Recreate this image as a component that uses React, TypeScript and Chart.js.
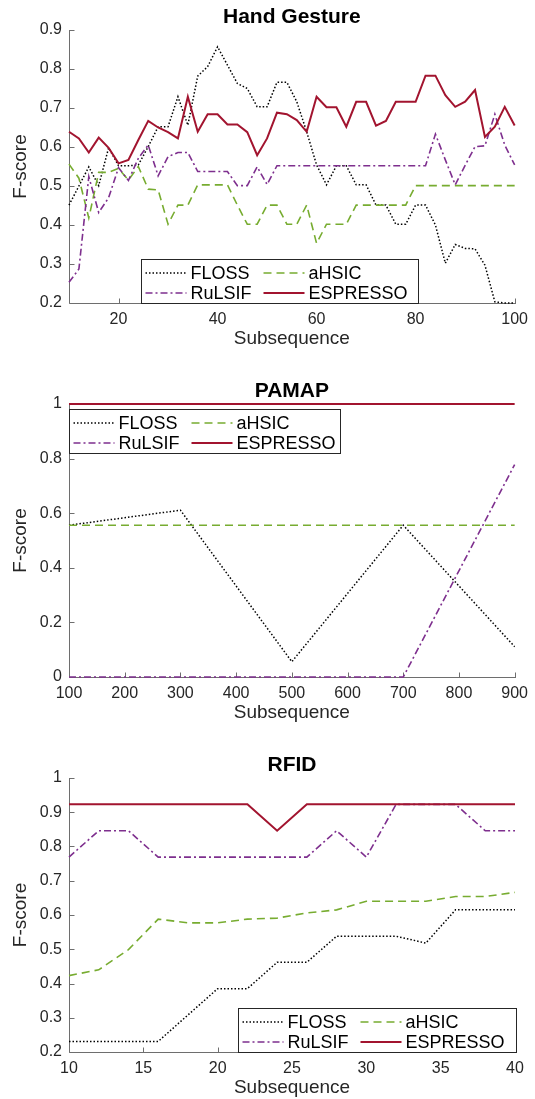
import React, { useEffect, useRef } from "react";
import { Chart, registerables } from "chart.js";

Chart.register(...registerables);

const FONT = '"Liberation Sans", Arial, Helvetica, sans-serif';
const TICK_COLOR = "#262626";
const AXIS_COLOR = "#6e6e6e";

// ---------------- Hand Gesture ----------------
const handX = [10, 12, 14, 16, 18, 20, 22, 24, 26, 28, 30, 32, 34, 36, 38, 40, 42, 44, 46, 48, 50, 52, 54, 56, 58, 60, 62, 64, 66, 68, 70, 72, 74, 76, 78, 80, 82, 84, 86, 88, 90, 92, 94, 96, 98, 100];
const handFloss = [0.451, 0.5, 0.549, 0.501, 0.598, 0.552, 0.552, 0.554, 0.601, 0.652, 0.652, 0.729, 0.656, 0.782, 0.806, 0.857, 0.81, 0.763, 0.75, 0.703, 0.703, 0.766, 0.766, 0.716, 0.639, 0.554, 0.503, 0.552, 0.552, 0.503, 0.503, 0.451, 0.451, 0.402, 0.402, 0.451, 0.451, 0.4, 0.302, 0.35, 0.34, 0.339, 0.297, 0.203, 0.2, 0.2];
const handAhsic = [0.556, 0.52, 0.418, 0.535, 0.535, 0.545, 0.515, 0.55, 0.492, 0.49, 0.402, 0.451, 0.451, 0.503, 0.503, 0.503, 0.503, 0.451, 0.402, 0.402, 0.451, 0.451, 0.402, 0.402, 0.451, 0.353, 0.402, 0.402, 0.402, 0.451, 0.451, 0.451, 0.451, 0.451, 0.451, 0.501, 0.501, 0.501, 0.501, 0.501, 0.501, 0.501, 0.501, 0.501, 0.501, 0.501];
const handRulsif = [0.253, 0.287, 0.524, 0.432, 0.47, 0.547, 0.514, 0.571, 0.605, 0.526, 0.575, 0.586, 0.586, 0.537, 0.537, 0.537, 0.537, 0.501, 0.501, 0.549, 0.504, 0.552, 0.552, 0.552, 0.552, 0.552, 0.552, 0.552, 0.552, 0.552, 0.552, 0.552, 0.552, 0.552, 0.552, 0.552, 0.552, 0.633, 0.567, 0.503, 0.553, 0.601, 0.603, 0.684, 0.605, 0.554];
const handEspresso = [0.639, 0.622, 0.586, 0.624, 0.598, 0.558, 0.567, 0.618, 0.667, 0.65, 0.638, 0.622, 0.729, 0.639, 0.684, 0.684, 0.658, 0.658, 0.638, 0.579, 0.622, 0.688, 0.684, 0.669, 0.639, 0.729, 0.702, 0.702, 0.652, 0.716, 0.716, 0.655, 0.667, 0.716, 0.716, 0.716, 0.783, 0.783, 0.733, 0.703, 0.716, 0.746, 0.626, 0.652, 0.703, 0.655];
const handXTicks = [20, 40, 60, 80, 100];
const handYTicks = [0.2, 0.3, 0.4, 0.5, 0.6, 0.7, 0.8, 0.9];

// ---------------- PAMAP ----------------
const pamapX = [100, 300, 500, 700, 900];
const pamapFloss = [0.556, 0.611, 0.056, 0.556, 0.111];
const pamapAhsic = [0.556, 0.556, 0.556, 0.556, 0.556];
const pamapRulsif = [0, 0, 0, 0, 0.778];
const pamapEspresso = [1, 1, 1, 1, 1];
const pamapXTicks = [100, 200, 300, 400, 500, 600, 700, 800, 900];
const pamapYTicks = [0, 0.2, 0.4, 0.6, 0.8, 1];

// ---------------- RFID ----------------
const rfidX = [10, 12, 14, 16, 18, 20, 22, 24, 26, 28, 30, 32, 34, 36, 38, 40];
const rfidFloss = [0.231, 0.231, 0.231, 0.231, 0.308, 0.385, 0.385, 0.462, 0.462, 0.538, 0.538, 0.538, 0.518, 0.615, 0.615, 0.615];
const rfidAhsic = [0.423, 0.44, 0.499, 0.588, 0.577, 0.577, 0.588, 0.591, 0.606, 0.615, 0.64, 0.64, 0.64, 0.654, 0.654, 0.666];
const rfidRulsif = [0.769, 0.846, 0.846, 0.769, 0.769, 0.769, 0.769, 0.769, 0.769, 0.846, 0.769, 0.923, 0.923, 0.923, 0.846, 0.846];
const rfidEspresso = [0.923, 0.923, 0.923, 0.923, 0.923, 0.923, 0.923, 0.846, 0.923, 0.923, 0.923, 0.923, 0.923, 0.923, 0.923, 0.923];
const rfidXTicks = [10, 15, 20, 25, 30, 35, 40];
const rfidYTicks = [0.2, 0.3, 0.4, 0.5, 0.6, 0.7, 0.8, 0.9, 1];

const seriesNames = ["FLOSS", "aHSIC", "RuLSIF", "ESPRESSO"];

const seriesStyles = [
  { color: "#000000", width: 1.5, dash: [1.5, 2] },
  { color: "#77AC30", width: 1.6, dash: [8, 5] },
  { color: "#7E2F8E", width: 1.6, dash: [7, 3, 2, 3] },
  { color: "#A2142F", width: 2, dash: [] as number[] },
];

interface PanelDef {
  title: string;
  canvasTop: number;
  canvasHeight: number;
  plotTop: number;
  plotBottom: number;
  x: number[];
  series: number[][];
  xMin: number;
  xMax: number;
  yMin: number;
  yMax: number;
  xTicks: number[];
  yTicks: number[];
  legend: { left: number; top: number; width: number };
}

const panels: PanelDef[] = [
  {
    title: "Hand Gesture",
    canvasTop: 0,
    canvasHeight: 366,
    plotTop: 30,
    plotBottom: 303,
    x: handX,
    series: [handFloss, handAhsic, handRulsif, handEspresso],
    xMin: 10,
    xMax: 100,
    yMin: 0.2,
    yMax: 0.9,
    xTicks: handXTicks,
    yTicks: handYTicks,
    legend: { left: 141, top: 259, width: 277 },
  },
  {
    title: "PAMAP",
    canvasTop: 366,
    canvasHeight: 364,
    plotTop: 404,
    plotBottom: 677,
    x: pamapX,
    series: [pamapFloss, pamapAhsic, pamapRulsif, pamapEspresso],
    xMin: 100,
    xMax: 900,
    yMin: 0,
    yMax: 1,
    xTicks: pamapXTicks,
    yTicks: pamapYTicks,
    legend: { left: 69, top: 409, width: 271 },
  },
  {
    title: "RFID",
    canvasTop: 730,
    canvasHeight: 369,
    plotTop: 778,
    plotBottom: 1052,
    x: rfidX,
    series: [rfidFloss, rfidAhsic, rfidRulsif, rfidEspresso],
    xMin: 10,
    xMax: 40,
    yMin: 0.2,
    yMax: 1,
    xTicks: rfidXTicks,
    yTicks: rfidYTicks,
    legend: { left: 238, top: 1008, width: 278 },
  },
];

const PLOT_LEFT = 69;
const PLOT_RIGHT = 515;
const CANVAS_W = 535;

function fmtTick(v: number): string {
  return String(Number(Number(v).toFixed(2)));
}

function makeDecor(p: PanelDef) {
  return {
    id: "decor_" + p.title.replace(/\s/g, ""),
    beforeDatasetsDraw(chart: any) {
      const ctx = chart.ctx as CanvasRenderingContext2D;
      const a = chart.chartArea;
      const xs = chart.scales.x;
      const ys = chart.scales.y;
      ctx.save();
      ctx.strokeStyle = AXIS_COLOR;
      ctx.lineWidth = 1;
      ctx.setLineDash([]);
      ctx.beginPath();
      const lx = Math.round(a.left) + 0.5;
      const by = Math.round(a.bottom) + 0.5;
      ctx.moveTo(lx, Math.round(a.top));
      ctx.lineTo(lx, by);
      ctx.lineTo(Math.round(a.right) + 1, by);
      for (const v of p.xTicks) {
        const px = Math.round(xs.getPixelForValue(v)) + 0.5;
        ctx.moveTo(px, by);
        ctx.lineTo(px, by - 5);
      }
      for (const v of p.yTicks) {
        const py = Math.round(ys.getPixelForValue(v)) + 0.5;
        ctx.moveTo(lx, py);
        ctx.lineTo(lx + 5, py);
      }
      ctx.stroke();

      // title
      const cx = (a.left + a.right) / 2;
      ctx.fillStyle = "#000000";
      ctx.font = "bold 21px " + FONT;
      ctx.textAlign = "center";
      ctx.textBaseline = "middle";
      ctx.fillText(p.title, cx, a.top - 13);

      // axis titles
      ctx.fillStyle = TICK_COLOR;
      ctx.font = "19px " + FONT;
      ctx.fillText("Subsequence", cx, a.bottom + 36);
      ctx.save();
      ctx.translate(21, (a.top + a.bottom) / 2);
      ctx.rotate(-Math.PI / 2);
      ctx.fillText("F-score", 0, 0);
      ctx.restore();
      ctx.restore();
    },
    afterDatasetsDraw(chart: any) {
      const ctx = chart.ctx as CanvasRenderingContext2D;
      const L = p.legend.left + 0.5;
      const T = p.legend.top - p.canvasTop + 0.5;
      const W = p.legend.width;
      const H = 44;
      ctx.save();
      ctx.fillStyle = "#ffffff";
      ctx.fillRect(L, T, W, H);
      ctx.strokeStyle = "#262626";
      ctx.lineWidth = 1;
      ctx.setLineDash([]);
      ctx.strokeRect(L, T, W, H);
      const cols = [
        { l0: 4, l1: 45, t: 49 },
        { l0: 122, l1: 163, t: 167 },
      ];
      const rows = [13, 33];
      ctx.font = "18px " + FONT;
      ctx.textAlign = "left";
      ctx.textBaseline = "middle";
      seriesNames.forEach((name, i) => {
        const c = cols[i % 2];
        const r = rows[Math.floor(i / 2)];
        const st = seriesStyles[i];
        const y = Math.round(T + r);
        ctx.strokeStyle = st.color;
        ctx.lineWidth = st.width;
        ctx.setLineDash(st.dash);
        ctx.beginPath();
        ctx.moveTo(L + c.l0, y);
        ctx.lineTo(L + c.l1, y);
        ctx.stroke();
        ctx.fillStyle = "#000000";
        ctx.fillText(name, L + c.t, y + 1);
      });
      ctx.restore();
    },
  };
}

function PanelChart({ p }: { p: PanelDef }) {
  const ref = useRef<HTMLCanvasElement | null>(null);
  useEffect(() => {
    if (!ref.current) return;
    const localTop = p.plotTop - p.canvasTop;
    const localBottom = p.plotBottom - p.canvasTop;
    const xAxisH = 40;
    const datasets = p.series.map((vals, i) => ({
      label: seriesNames[i],
      data: p.x.map((xv, j) => ({ x: xv, y: vals[j] })),
      borderColor: seriesStyles[i].color,
      backgroundColor: seriesStyles[i].color,
      borderWidth: seriesStyles[i].width,
      borderDash: seriesStyles[i].dash,
      pointRadius: 0,
      tension: 0,
      fill: false,
      clip: false as any,
      order: 3 - i,
    }));
    const chart = new Chart(ref.current, {
      type: "line",
      data: { datasets },
      options: {
        animation: false,
        responsive: false,
        devicePixelRatio: 1,
        layout: {
          padding: {
            left: 0,
            right: CANVAS_W - PLOT_RIGHT,
            top: localTop,
            bottom: p.canvasHeight - localBottom - xAxisH,
          },
        },
        plugins: {
          legend: { display: false },
          tooltip: { enabled: false },
          title: { display: false },
        },
        scales: {
          x: {
            type: "linear",
            min: p.xMin,
            max: p.xMax,
            grid: { display: false, drawTicks: false },
            border: { display: false },
            afterBuildTicks: (s: any) => {
              s.ticks = p.xTicks.map((v) => ({ value: v }));
            },
            afterFit: (s: any) => {
              s.height = xAxisH;
            },
            ticks: {
              autoSkip: false,
              maxRotation: 0,
              minRotation: 0,
              padding: 7,
              color: TICK_COLOR,
              font: { family: FONT, size: 16 },
              callback: (v: any) => fmtTick(v),
            },
          },
          y: {
            type: "linear",
            min: p.yMin,
            max: p.yMax,
            grid: { display: false, drawTicks: false },
            border: { display: false },
            afterBuildTicks: (s: any) => {
              s.ticks = p.yTicks.map((v) => ({ value: v }));
            },
            afterFit: (s: any) => {
              s.width = PLOT_LEFT;
            },
            ticks: {
              autoSkip: false,
              padding: 7,
              color: TICK_COLOR,
              font: { family: FONT, size: 16 },
              callback: (v: any) => fmtTick(v),
            },
          },
        },
      },
      plugins: [makeDecor(p)],
    });
    return () => chart.destroy();
  }, [p]);
  return (
    <canvas
      ref={ref}
      width={CANVAS_W}
      height={p.canvasHeight}
      style={{ position: "absolute", left: 0, top: p.canvasTop, width: CANVAS_W, height: p.canvasHeight }}
    />
  );
}

export default function App() {
  return (
    <div style={{ position: "absolute", left: 0, top: 0, width: CANVAS_W, height: 1099, background: "#ffffff", overflow: "hidden" }}>
      {panels.map((p) => (
        <PanelChart key={p.title} p={p} />
      ))}
    </div>
  );
}
